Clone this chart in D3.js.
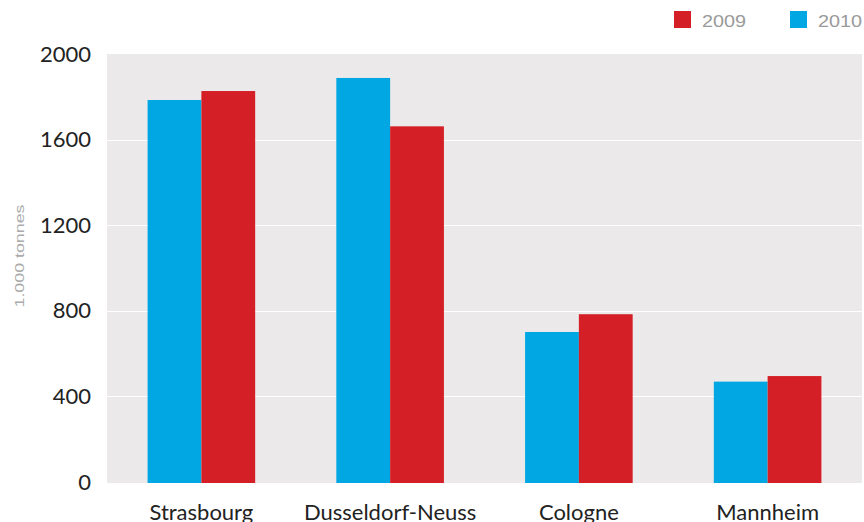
<!DOCTYPE html>
<html>
<head>
<meta charset="utf-8">
<script src="https://cdn.jsdelivr.net/npm/d3@7"></script>
<style>
  body { margin: 0; background: #fff; }
  svg { display: block; }
</style>
</head>
<body>
<svg width="864" height="522"></svg>
<script>
// ports, values in 1.000 tonnes
var cities = ["Strasbourg", "Dusseldorf-Neuss", "Cologne", "Mannheim"];
var years = ["2010", "2009"];
var values2010 = [1785, 1888, 701, 469];
var values2009 = [1827, 1662, 784, 495];
var yTicks = [0, 400, 800, 1200, 1600, 2000];

var colors = { "2009": "#d41f26", "2010": "#00a7e3" };

var svg = d3.select("svg"),
    plotLeft = 107, plotRight = 862, plotTop = 54, plotBottom = 482;

var data = cities.map(function(c, i) {
  return { city: c, "2010": values2010[i], "2009": values2009[i] };
});

var x0 = d3.scaleBand()
    .domain(cities)
    .range([plotLeft, plotRight])
    .paddingInner(0.43)
    .paddingOuter(0.215);

var x1 = d3.scaleBand()
    .domain(years)
    .range([0, x0.bandwidth()]);

var y = d3.scaleLinear()
    .domain([0, 2000])
    .range([plotBottom, plotTop]);

// plot background
svg.append("rect")
    .attr("x", plotLeft)
    .attr("y", plotTop)
    .attr("width", plotRight - plotLeft)
    .attr("height", plotBottom - plotTop + 1)
    .attr("fill", "#ece9ea");

// gridlines
svg.append("g")
    .selectAll("line")
    .data(yTicks.filter(function(t) { return t > 0 && t < 2000; }))
    .enter().append("line")
      .attr("x1", plotLeft)
      .attr("x2", plotRight)
      .attr("y1", function(d) { return Math.round(y(d)) + 0.5; })
      .attr("y2", function(d) { return Math.round(y(d)) + 0.5; })
      .attr("stroke", "#fff")
      .attr("stroke-width", 1.2);

// bars
svg.append("g")
  .selectAll("g")
  .data(data)
  .enter().append("g")
    .attr("transform", function(d) { return "translate(" + x0(d.city) + ",0)"; })
  .selectAll("rect")
  .data(function(d) { return years.map(function(k) { return { key: k, value: d[k] }; }); })
  .enter().append("rect")
    .attr("x", function(d) { return x1(d.key); })
    .attr("y", function(d) { return y(d.value); })
    .attr("width", x1.bandwidth())
    .attr("height", function(d) { return plotBottom + 1 - y(d.value); })
    .attr("fill", function(d) { return colors[d.key]; });

// y axis labels
var yAxis = svg.append("g")
    .attr("transform", "translate(" + (plotLeft - 16) + ",0)")
    .call(d3.axisLeft(y).tickValues(yTicks).tickSize(0).tickPadding(0).tickFormat(d3.format("d")));
yAxis.select(".domain").remove();
yAxis.selectAll("text")
    .attr("font-family", "Lato, 'Open Sans', sans-serif")
    .attr("font-size", 22)
    .attr("fill", "#222");

// x axis labels
var xAxis = svg.append("g")
    .attr("transform", "translate(0," + plotBottom + ")")
    .call(d3.axisBottom(x0).tickSize(0).tickPadding(22));
xAxis.select(".domain").remove();
xAxis.selectAll("text")
    .attr("font-family", "Lato, 'Open Sans', sans-serif")
    .attr("font-size", 22)
    .attr("fill", "#222");

// y axis title
svg.append("text")
    .attr("transform", "translate(24,256) rotate(-90)")
    .attr("text-anchor", "middle")
    .attr("font-family", "'Liberation Sans', Arial, sans-serif")
    .attr("font-size", 13)
    .attr("fill", "#aaa")
    .attr("textLength", 103)
    .attr("lengthAdjust", "spacingAndGlyphs")
    .text("1.000 tonnes");

// legend
var legendItems = ["2009", "2010"];
var legend = svg.append("g")
  .selectAll("g")
  .data(legendItems)
  .enter().append("g")
    .attr("transform", function(d, i) { return "translate(" + (674 + i * 116) + ",11)"; });
legend.append("rect")
    .attr("width", 17)
    .attr("height", 17)
    .attr("fill", function(d) { return colors[d]; });
legend.append("text")
    .attr("x", 28)
    .attr("y", 15.5)
    .attr("font-family", "'Liberation Sans', Arial, sans-serif")
    .attr("font-size", 17)
    .attr("fill", "#9a9a9a")
    .attr("textLength", 44)
    .attr("lengthAdjust", "spacingAndGlyphs")
    .text(function(d) { return d; });
</script>
</body>
</html>
